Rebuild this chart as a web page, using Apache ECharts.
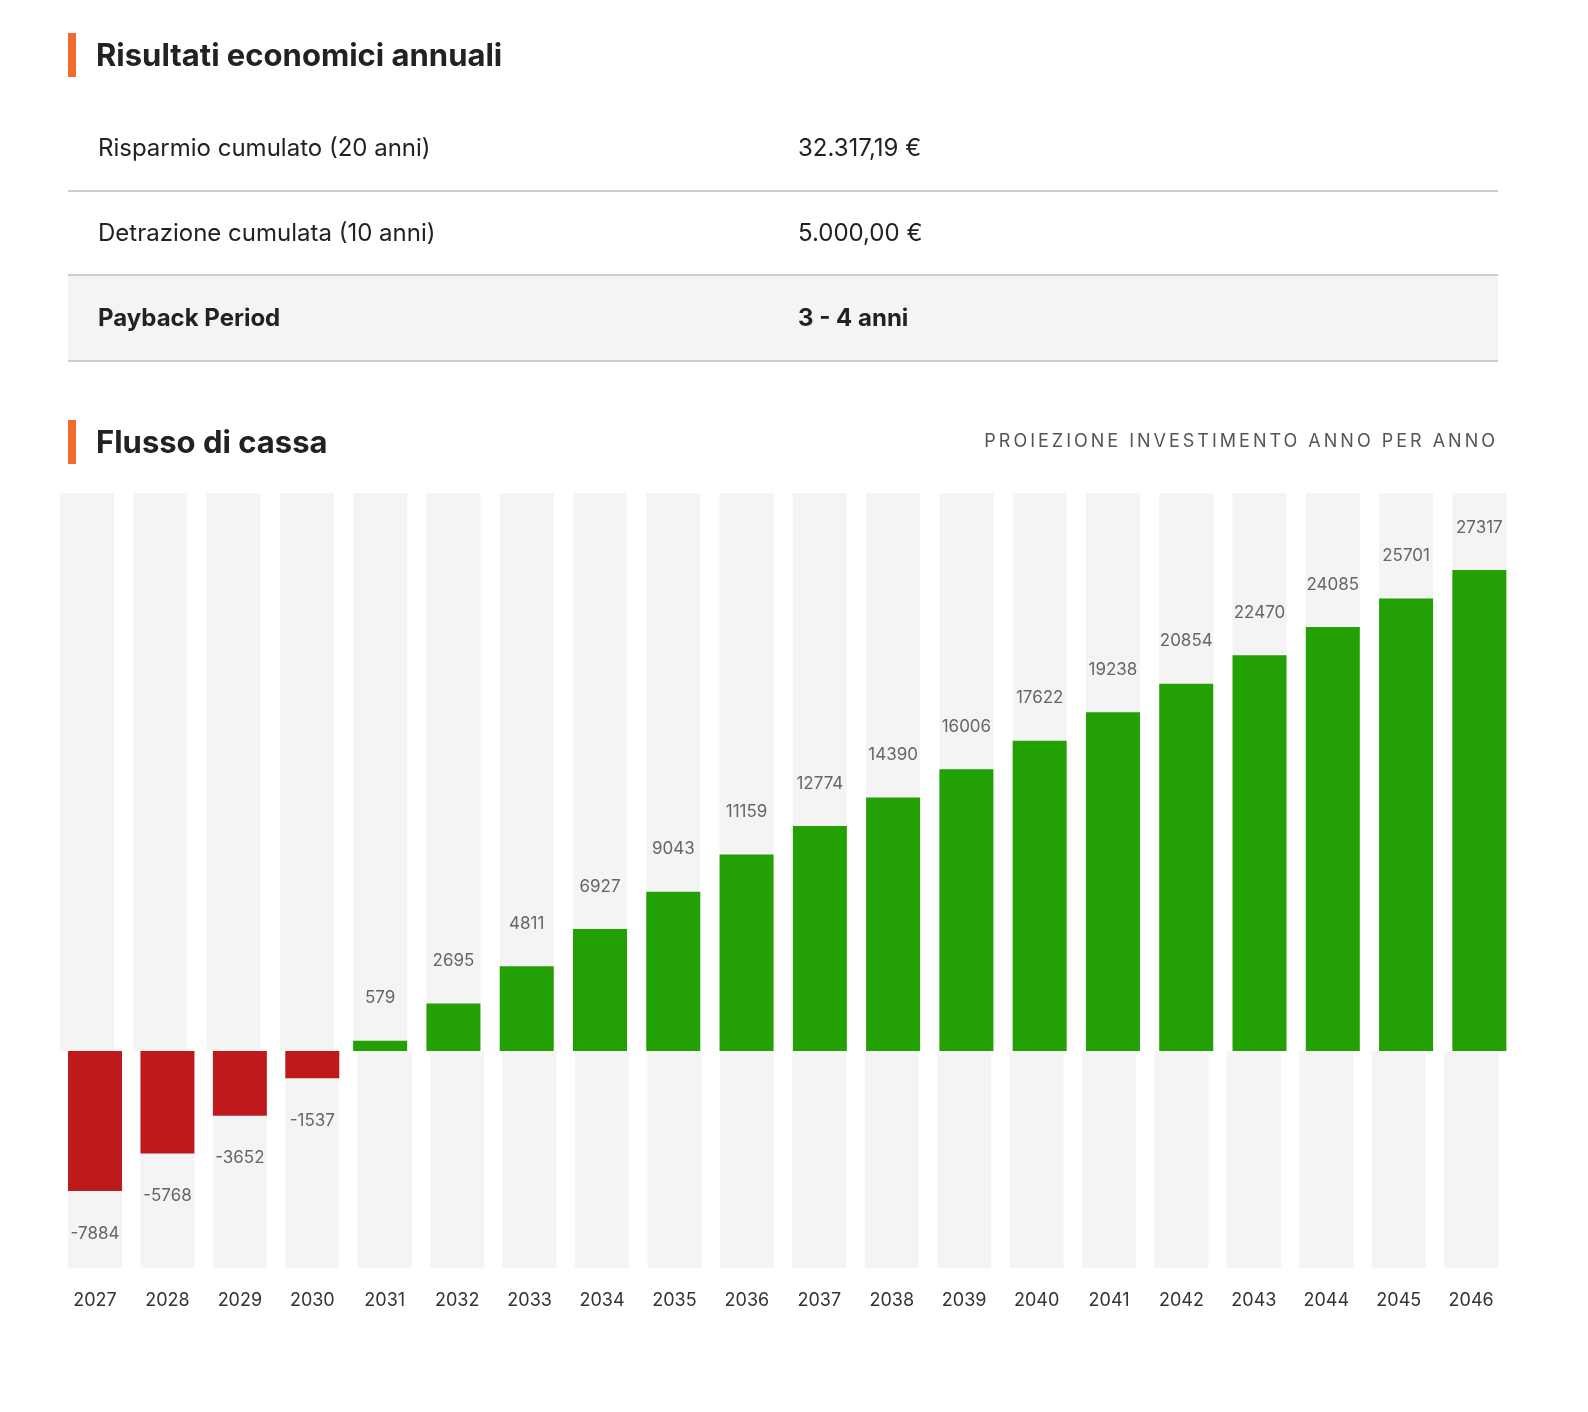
<!DOCTYPE html>
<html><head><meta charset="utf-8">
<script src="https://cdn.jsdelivr.net/npm/echarts@6/dist/echarts.min.js"></script>
<style>
body{margin:0;background:#fff;font-family:Inter,Lato,sans-serif;color:#222;overflow:hidden}
#c{position:absolute;left:0;top:0;width:1588px;height:1412px}
.t{position:absolute;left:68px;border-left:8px solid #f26a2e;padding-left:20px;font-size:31px;font-weight:700;height:44px;line-height:44px}
.row{position:absolute;left:68px;width:1430px;border-bottom:2px solid #ccc;font-size:24px}
.row span{position:absolute;top:0}
.sub{position:absolute;right:90px;top:430px;font-size:18px;letter-spacing:3px;color:#555}
</style></head><body>
<div id="c"></div>
<div class="t" style="top:33px">Risultati economici annuali</div>
<div class="row" style="top:106px;height:84px"><span style="left:30px;line-height:84px">Risparmio cumulato (20 anni)</span><span style="left:730px;line-height:84px">32.317,19 €</span></div>
<div class="row" style="top:192px;height:82px"><span style="left:30px;line-height:82px">Detrazione cumulata (10 anni)</span><span style="left:730px;line-height:82px">5.000,00 €</span></div>
<div class="row" style="top:276px;height:84px;background:#f4f4f4;font-weight:700"><span style="left:30px;line-height:84px">Payback Period</span><span style="left:730px;line-height:84px">3 - 4 anni</span></div>
<div class="t" style="top:420px">Flusso di cassa</div>
<div class="sub">PROIEZIONE INVESTIMENTO ANNO PER ANNO</div>
<script>
const years=['2027','2028','2029','2030','2031','2032','2033','2034','2035','2036','2037','2038','2039','2040','2041','2042','2043','2044','2045','2046'];
const flows=[-7884,-5768,-3652,-1537,579,2695,4811,6927,9043,11159,12774,14390,16006,17622,19238,20854,22470,24085,25701,27317];
const pos=flows.map(v=>v>0?v:null);
const neg=flows.map(v=>v<0?v:null);
const lbl={show:true,color:'#666',fontSize:17,fontFamily:'Inter,Lato,sans-serif',distance:34};
const ch=echarts.init(document.getElementById('c'));
ch.setOption({
 animation:false,
 grid:[{left:50.4,width:1465.6,top:493,height:558},{left:58.8,width:1448.6,top:1051,height:217}],
 xAxis:[{gridIndex:0,type:'category',data:years,show:false},
  {gridIndex:1,type:'category',data:years,axisLine:{show:false},axisTick:{show:false},position:'bottom',
   axisLabel:{color:'#333',fontSize:18,margin:24,fontFamily:'Inter,Lato,sans-serif'}}],
 yAxis:[{gridIndex:0,min:0,max:31690,show:false},{gridIndex:1,min:-12220,max:0,show:false}],
 series:[
  {type:'bar',xAxisIndex:0,yAxisIndex:0,data:pos,barWidth:54,showBackground:true,backgroundStyle:{color:'#f4f4f4'},
   itemStyle:{color:'#22a004'},label:Object.assign({position:'top'},lbl)},
  {type:'bar',xAxisIndex:1,yAxisIndex:1,data:neg,barWidth:54,showBackground:true,backgroundStyle:{color:'#f4f4f4'},
   itemStyle:{color:'#be1a1e'},label:Object.assign({position:'bottom'},lbl)}
 ]
});
</script></body></html>
